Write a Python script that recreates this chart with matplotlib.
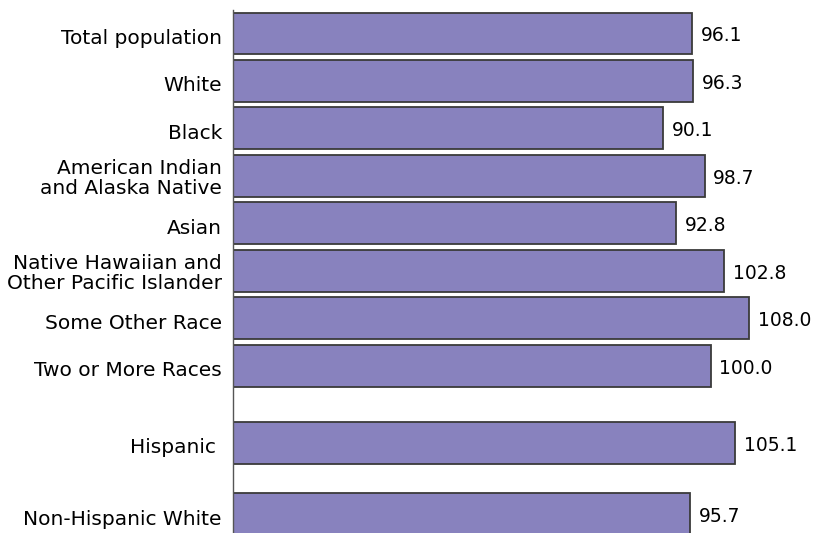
import numpy as np
import matplotlib.pyplot as plt
from matplotlib.transforms import ScaledTranslation

categories = ['Total population', 'White', 'Black',
              'American Indian\nand Alaska Native', 'Asian',
              'Native Hawaiian and\nOther Pacific Islander',
              'Some Other Race', 'Two or More Races',
              'Hispanic ', 'Non-Hispanic White']
ratios = [96.1, 96.3, 90.1, 98.7, 92.8, 102.8, 108.0, 100.0, 105.1, 95.7]

# the last two groups sit a bit apart from the race groups
ypos = np.array(list(range(8)) + [8.62, 10.12])

fig = plt.figure(figsize=(8.14, 5.33), dpi=100)
ax = fig.add_axes([233/814, 0, 1 - 233/814, 1 - 10/533])

ax.barh(ypos, ratios, height=0.884, color='#8882be', edgecolor='#3a3a3a',
        linewidth=1.3)
for y, v in zip(ypos, ratios):
    ax.text(v + 1.8, y + 0.05, f'{v:.1f}', va='center', ha='left', fontsize=13.5)

ax.set_xlim(0, 121.6)
ax.set_ylim(10.52, -0.495)
ax.set_yticks(ypos)
ax.set_yticklabels(categories, fontsize=14.5, linespacing=1.05)
ax.tick_params(axis='y', length=0, pad=8)
ax.set_xticks([])
for s in ['top', 'right', 'bottom']:
    ax.spines[s].set_visible(False)
ax.spines['left'].set_color('#555555')
ax.spines['left'].set_linewidth(1.0)

# single-line labels sit a little below the bar centre
shift = ScaledTranslation(0, -3/100, fig.dpi_scale_trans)
for lbl in ax.get_yticklabels():
    if '\n' not in lbl.get_text():
        lbl.set_transform(lbl.get_transform() + shift)

plt.savefig('out.png', dpi=100)
plt.close()
